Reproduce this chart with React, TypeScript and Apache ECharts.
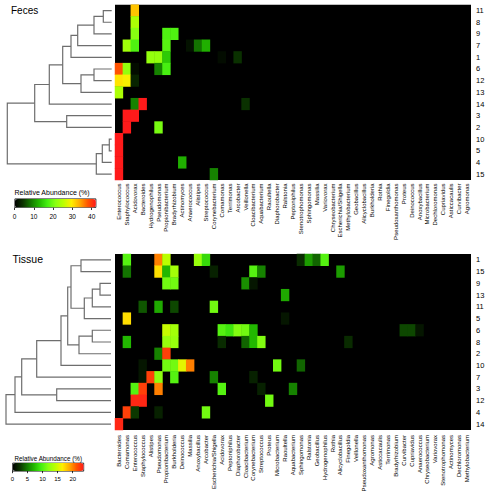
import React, { useEffect, useRef } from 'react';
import * as echarts from 'echarts';

const FONT = 'Liberation Sans, Arial, Helvetica, sans-serif';

const fecesSamples = ['11', '8', '9', '7', '1', '6', '12', '13', '14', '3', '2', '10', '5', '4', '15'];
const tissueSamples = ['1', '15', '9', '13', '11', '5', '6', '8', '2', '10', '7', '3', '12', '4', '14'];

const fecesGenera = ['Enterococcus', 'Staphylococcus', 'Acidovorax', 'Bacteroides', 'Hydrogenophilus', 'Pseudomonas', 'Propionibacterium', 'Bradyrhizobium', 'Actinomyces', 'Anaerococcus', 'Alistipes', 'Streptococcus', 'Corynebacterium', 'Comamonas', 'Terrimonas', 'Arcobacter', 'Veillonella', 'Cloacibacterium', 'Aquabacterium', 'Raoultella', 'Diaphorobacter', 'Ralstonia', 'Peptoniphilus', 'Stenotrophomonas', 'Sphingomonas', 'Massilia', 'Variovorax', 'Chryseobacterium', 'Escherichia/Shigella', 'Methylobacterium', 'Geobacillus', 'Alicyclobacillus', 'Burkholderia', 'Rothia', 'Finegoldia', 'Pseudoxanthomonas', 'Proteus', 'Deinococcus', 'Anoxybacillus', 'Microbacterium', 'Dechloromonas', 'Cupriavidus', 'Asticcacaulis', 'Curvibacter', 'Agromonas'];

const tissueGenera = ['Bacteroides', 'Comamonas', 'Enterococcus', 'Staphylococcus', 'Alistipes', 'Pseudomonas', 'Propionibacterium', 'Burkholderia', 'Deinococcus', 'Massilia', 'Anoxybacillus', 'Arcobacter', 'Escherichia/Shigella', 'Acidovorax', 'Peptoniphilus', 'Diaphorobacter', 'Cloacibacterium', 'Corynebacterium', 'Streptococcus', 'Proteus', 'Microbacterium', 'Raoultella', 'Aquabacterium', 'Sphingomonas', 'Ralstonia', 'Geobacillus', 'Hydrogenophilus', 'Rothia', 'Alicyclobacillus', 'Finegoldia', 'Veillonella', 'Pseudoxanthomonas', 'Agromonas', 'Asticcacaulis', 'Terrimonas', 'Bradyrhizobium', 'Curvibacter', 'Cupriavidus', 'Anaerococcus', 'Chryseobacterium', 'Variovorax', 'Stenotrophomonas', 'Actinomyces', 'Dechloromonas', 'Methylobacterium'];

// non-zero relative abundances (%): [genus, sample, value]
const fecesValues: [string, string, number][] = [
  ['Acidovorax', '11', 32],
  ['Acidovorax', '8', 24],
  ['Acidovorax', '9', 21], ['Propionibacterium', '9', 17.5], ['Bradyrhizobium', '9', 17.5],
  ['Staphylococcus', '7', 23], ['Acidovorax', '7', 17.5], ['Propionibacterium', '7', 18], ['Anaerococcus', '7', 1.5], ['Alistipes', '7', 8], ['Streptococcus', '7', 12],
  ['Hydrogenophilus', '1', 22], ['Pseudomonas', '1', 22], ['Propionibacterium', '1', 14], ['Comamonas', '1', 1], ['Arcobacter', '1', 4],
  ['Enterococcus', '6', 38], ['Staphylococcus', '6', 22], ['Acidovorax', '6', 1], ['Pseudomonas', '6', 9], ['Propionibacterium', '6', 17],
  ['Enterococcus', '12', 30], ['Staphylococcus', '12', 29], ['Acidovorax', '12', 3],
  ['Enterococcus', '13', 24],
  ['Acidovorax', '14', 9], ['Bacteroides', '14', 42], ['Veillonella', '14', 4],
  ['Staphylococcus', '3', 42], ['Acidovorax', '3', 42],
  ['Staphylococcus', '2', 42], ['Pseudomonas', '2', 20],
  ['Enterococcus', '10', 42],
  ['Enterococcus', '5', 42],
  ['Enterococcus', '4', 42], ['Actinomyces', '4', 12],
  ['Enterococcus', '15', 42], ['Corynebacterium', '15', 9],
];

const tissueValues: [string, string, number][] = [
  ['Comamonas', '1', 10], ['Pseudomonas', '1', 20], ['Propionibacterium', '1', 14], ['Anoxybacillus', '1', 12.5], ['Arcobacter', '1', 8.5], ['Sphingomonas', '1', 2], ['Ralstonia', '1', 6], ['Geobacillus', '1', 4], ['Hydrogenophilus', '1', 10],
  ['Comamonas', '15', 4.5], ['Pseudomonas', '15', 17], ['Propionibacterium', '15', 7], ['Burkholderia', '15', 13], ['Escherichia/Shigella', '15', 1.5], ['Corynebacterium', '15', 10], ['Streptococcus', '15', 5], ['Alicyclobacillus', '15', 6],
  ['Propionibacterium', '9', 11], ['Burkholderia', '9', 11], ['Cloacibacterium', '9', 5.5], ['Corynebacterium', '9', 1],
  ['Raoultella', '13', 6.5],
  ['Staphylococcus', '11', 3.5], ['Pseudomonas', '11', 6.5], ['Burkholderia', '11', 3], ['Escherichia/Shigella', '11', 11],
  ['Comamonas', '5', 17], ['Raoultella', '5', 1],
  ['Propionibacterium', '6', 14.5], ['Burkholderia', '6', 13], ['Acidovorax', '6', 10], ['Peptoniphilus', '6', 9], ['Diaphorobacter', '6', 11.5], ['Cloacibacterium', '6', 11], ['Corynebacterium', '6', 7], ['Curvibacter', '6', 3], ['Cupriavidus', '6', 3], ['Anaerococcus', '6', 1],
  ['Comamonas', '8', 7], ['Propionibacterium', '8', 12.5], ['Burkholderia', '8', 12.5], ['Acidovorax', '8', 2], ['Cloacibacterium', '8', 4], ['Corynebacterium', '8', 7], ['Streptococcus', '8', 11.5], ['Finegoldia', '8', 2],
  ['Pseudomonas', '2', 5], ['Propionibacterium', '2', 22],
  ['Staphylococcus', '10', 1], ['Propionibacterium', '10', 11], ['Burkholderia', '10', 11], ['Deinococcus', '10', 15.5], ['Massilia', '10', 20], ['Microbacterium', '10', 11], ['Sphingomonas', '10', 4],
  ['Staphylococcus', '7', 1], ['Alistipes', '7', 22], ['Pseudomonas', '7', 12], ['Burkholderia', '7', 10], ['Escherichia/Shigella', '7', 5], ['Corynebacterium', '7', 1.5],
  ['Enterococcus', '3', 10], ['Staphylococcus', '3', 22], ['Pseudomonas', '3', 20], ['Acidovorax', '3', 10], ['Streptococcus', '3', 1.5], ['Aquabacterium', '3', 5],
  ['Enterococcus', '12', 23], ['Staphylococcus', '12', 23], ['Proteus', '12', 11],
  ['Comamonas', '4', 22], ['Enterococcus', '4', 2.5], ['Pseudomonas', '4', 1.5], ['Arcobacter', '4', 11],
  ['Bacteroides', '14', 23],
];

// dendrogram merges: children are sample labels (leaves) or 1-based merge numbers
const fecesMerges: (string | number)[][] = [
  ['11', '8'], [1, '9'], [2, '7'], [3, '1'], ['6', '12'], [5, '13'], [4, 6], [7, '14'],
  ['3', '2'], [8, 9], ['10', '5'], [11, '4'], [12, '15'], [10, 13],
];
const fecesHeights = [8.4, 17.7, 34, 40.7, 17.7, 30.7, 49, 62.4, 45, 77, 2.4, 9.4, 15.4, 104.4];

const tissueMerges: (string | number)[][] = [
  ['1', '15'], ['9', '13'], [2, '11'], [3, '5'], [1, 4], ['6', '8'], [6, '2'], [5, 7],
  [8, '10'], [9, '7'], ['3', '12'], [10, 11], [12, '4'], [13, '14'],
];
const tissueHeights = [30, 11, 18.7, 26.7, 40, 18.7, 32, 43.3, 50, 74.3, 54.3, 89.3, 96, 105];

const fecesMax = 42;
const tissueMax = 23.5;
const fecesTicks = [0, 10, 20, 30, 40];
const tissueTicks = [0, 5, 10, 15, 20];

const palette = ['#000000', '#0b3300', '#147a00', '#22b800', '#44ee11', '#88ff11', '#bbff00', '#ffee00', '#ffaa00', '#ff5500', '#ff1a1a'];

function buildDendro(samples: string[], merges: (string | number)[][], heights: number[]) {
  const pos: { y: number; h: number }[] = [];
  const get = (c: string | number) => (typeof c === 'string' ? { y: samples.indexOf(c), h: 0 } : pos[c - 1]);
  const segs: number[][] = [];
  merges.forEach((m, i) => {
    const a = get(m[0]);
    const b = get(m[1]);
    const h = heights[i];
    segs.push([a.h, a.y, h, b.y, b.h]);
    pos.push({ y: (a.y + b.y) / 2, h });
  });
  return segs;
}

const dendroRender = (params: any, api: any) => {
  const p1 = api.coord([api.value(0), api.value(1)]);
  const p2 = api.coord([api.value(2), api.value(1)]);
  const p3 = api.coord([api.value(2), api.value(3)]);
  const p4 = api.coord([api.value(4), api.value(3)]);
  return {
    type: 'polyline',
    shape: { points: [p1, p2, p3, p4] },
    style: { stroke: '#6e6e6e', lineWidth: 1.2, fill: null },
  };
};

export default function App() {
  const ref = useRef<HTMLDivElement>(null);
  useEffect(() => {
    if (!ref.current) return;
    const chart = echarts.init(ref.current, null, { renderer: 'svg' });

    const F = { top: 4.7, height: 175.3, left: 115, width: 356 };
    const T = { top: 254, height: 176, left: 115, width: 356 };

    const heatX = (gridIndex: number, data: string[], margin: number) => ({
      type: 'category', gridIndex, data, position: 'bottom',
      axisLine: { show: false }, axisTick: { show: false }, splitLine: { show: false },
      axisLabel: { interval: 0, rotate: 90, fontSize: 6, margin, color: '#000', fontFamily: FONT },
    });
    const heatY = (gridIndex: number, data: string[]) => ({
      type: 'category', gridIndex, data, inverse: true, position: 'right',
      axisLine: { show: false }, axisTick: { show: false }, splitLine: { show: false },
      axisLabel: { fontSize: 7.5, margin: 5, color: '#000', fontFamily: FONT },
    });
    const hidVal = (gridIndex: number, min: number, max: number, inverse: boolean) => ({
      type: 'value', gridIndex, min, max, inverse, show: false,
    });
    const legX = (gridIndex: number, max: number, ticks: number[], fs: number, margin: number) => ({
      type: 'value', gridIndex, min: 0, max, position: 'bottom',
      axisLine: { show: false }, splitLine: { show: false },
      axisTick: { show: true, length: 2.5, customValues: ticks, lineStyle: { color: '#000', width: 0.8 } },
      axisLabel: { customValues: ticks, fontSize: fs, margin, color: '#000', fontFamily: FONT },
    });

    const option: any = {
      animation: false,
      backgroundColor: '#fff',
      textStyle: { fontFamily: FONT },
      title: [
        { text: 'Feces', left: 11, top: 5, padding: 0, textStyle: { fontSize: 10, fontWeight: 'normal', color: '#000', fontFamily: FONT } },
        { text: 'Tissue', left: 12.5, top: 253.5, padding: 0, textStyle: { fontSize: 10.5, fontWeight: 'normal', color: '#000', fontFamily: FONT } },
        { text: 'Relative Abundance (%)', left: 14.5, top: 188.5, padding: 0, textStyle: { fontSize: 7, fontWeight: 'normal', color: '#000', fontFamily: FONT } },
        { text: 'Relative Abundance (%)', left: 14.5, top: 455, padding: 0, textStyle: { fontSize: 6.3, fontWeight: 'normal', color: '#000', fontFamily: FONT } },
      ],
      grid: [
        { ...F, show: true, backgroundColor: '#000', borderWidth: 0 },
        { top: F.top, height: F.height, left: 7.3, width: 104.4 },
        { top: 206.5, height: 1, left: 14.5, width: 81 },
        { ...T, show: true, backgroundColor: '#000', borderWidth: 0 },
        { top: T.top, height: T.height, left: 6, width: 105 },
        { top: 469.7, height: 1, left: 12.3, width: 71 },
      ],
      xAxis: [
        heatX(0, fecesGenera, 3.5),
        hidVal(1, 0, 104.4, true),
        legX(2, fecesMax, fecesTicks, 6.5, 5),
        heatX(3, tissueGenera, 5),
        hidVal(4, 0, 105, true),
        legX(5, tissueMax, tissueTicks, 6, 5),
      ],
      yAxis: [
        heatY(0, fecesSamples),
        hidVal(1, -0.5, 14.5, true),
        hidVal(2, 0, 1, false),
        heatY(3, tissueSamples),
        hidVal(4, -0.5, 14.5, true),
        hidVal(5, 0, 1, false),
      ],
      visualMap: [
        {
          type: 'continuous', seriesIndex: 0, min: 0, max: fecesMax, orient: 'horizontal',
          left: 14.5, top: 198.5, itemWidth: 8.5, itemHeight: 81, padding: 0,
          calculable: false, hoverLink: false, text: null, inRange: { color: palette },
          borderColor: '#000', borderWidth: 0.8,
        },
        {
          type: 'continuous', seriesIndex: 1, min: 0, max: tissueMax, orient: 'horizontal',
          left: 12.3, top: 462.7, itemWidth: 8, itemHeight: 71, padding: 0,
          calculable: false, hoverLink: false, text: null, inRange: { color: palette },
          borderColor: '#000', borderWidth: 0.8,
        },
      ],
      series: [
        { type: 'heatmap', xAxisIndex: 0, yAxisIndex: 0, data: fecesValues, emphasis: { disabled: true } },
        { type: 'heatmap', xAxisIndex: 3, yAxisIndex: 3, data: tissueValues, emphasis: { disabled: true } },
        { type: 'custom', xAxisIndex: 1, yAxisIndex: 1, renderItem: dendroRender, data: buildDendro(fecesSamples, fecesMerges, fecesHeights), clip: false, silent: true },
        { type: 'custom', xAxisIndex: 4, yAxisIndex: 4, renderItem: dendroRender, data: buildDendro(tissueSamples, tissueMerges, tissueHeights), clip: false, silent: true },
        { type: 'scatter', xAxisIndex: 2, yAxisIndex: 2, data: [] },
        { type: 'scatter', xAxisIndex: 5, yAxisIndex: 5, data: [] },
      ],
    };
    chart.setOption(option);
    return () => chart.dispose();
  }, []);
  return <div ref={ref} style={{ position: 'fixed', left: 0, top: 0, width: 491, height: 500 }} />;
}
